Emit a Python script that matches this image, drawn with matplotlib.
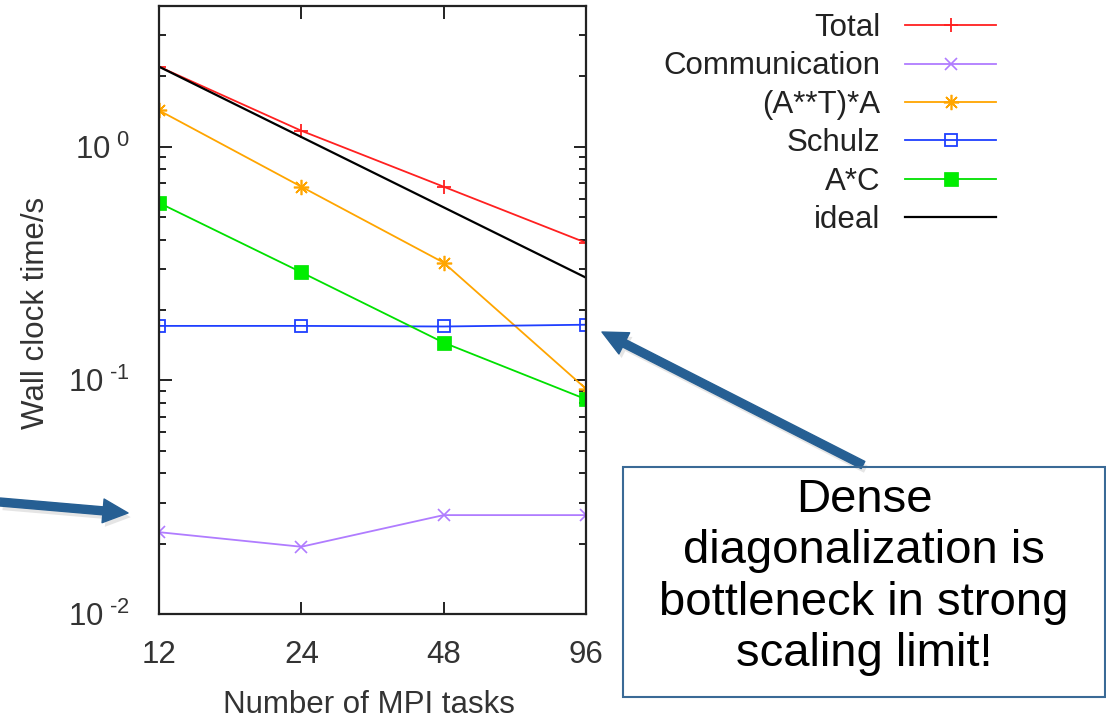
import matplotlib
matplotlib.use("Agg")
import matplotlib.pyplot as plt
from matplotlib.ticker import FixedLocator, NullLocator, FixedFormatter
from matplotlib.patches import Rectangle
import matplotlib.patheffects as pe

plt.rcParams['font.family'] = ['Liberation Sans', 'DejaVu Sans']
plt.rcParams['mathtext.fontset'] = 'custom'
plt.rcParams['mathtext.rm'] = 'Liberation Sans'
plt.rcParams['mathtext.it'] = 'Liberation Sans'

# ---- data ----
tasks = [12, 24, 48, 96]
total = [2.2, 1.17, 0.674, 0.388]
communication = [0.0224, 0.0194, 0.0265, 0.0265]
ata = [1.43, 0.674, 0.319, 0.092]
schulz = [0.171, 0.171, 0.170, 0.173]
ac = [0.575, 0.29, 0.145, 0.083]
ideal = [2.2, 1.1, 0.55, 0.275]

series_labels = ["Total", "Communication", "(A**T)*A", "Schulz", "A*C", "ideal"]
xtick_labels = ["12", "24", "48", "96"]
ytick_values = [0.01, 0.1, 1.0]
ytick_labels = [r"$\mathregular{10^{\ \text{-}2}}$", r"$\mathregular{10^{\ \text{-}1}}$", r"$\mathregular{10^{\ 0}}$"]
xlabel = "Number of MPI tasks"
ylabel = "Wall clock time/s"
box_text = "Dense\ndiagonalization is\nbottleneck in strong\nscaling limit!"

W, H = 1106, 723
fig = plt.figure(figsize=(W / 100, H / 100), dpi=100)
fig.patch.set_facecolor("white")

L, R, T, B = 159, 586, 6, 614
ax = fig.add_axes([L / W, 1 - B / H, (R - L) / W, (B - T) / H])

FS = 22.5
lw = 1.3
ax.plot(tasks, total, color="#ff2020", lw=lw, marker="+", ms=10, mew=1.3, label=series_labels[0])
ax.plot(tasks, communication, color="#b07cff", lw=lw, marker="x", ms=8, mew=1.2, label=series_labels[1])
ax.plot(tasks, ata, color="#ffa500", lw=lw, marker=(8, 2, 0), ms=11, mew=1.2, label=series_labels[2])
ax.plot(tasks, schulz, color="#1f3fff", lw=lw, marker="s", ms=9, mew=1.3, mfc="none", label=series_labels[3])
ax.plot(tasks, ac, color="#00e000", lw=lw, marker="s", ms=9.5, mew=0.5, mfc="#00ee00", label=series_labels[4])
ax.plot(tasks, ideal, color="black", lw=1.6, label=series_labels[5])

ax.set_xscale("log", base=2)
ax.set_yscale("log")
ax.set_xlim(12, 96)
ax.set_ylim(0.01, 4.0)
ax.xaxis.set_major_locator(FixedLocator(tasks))
ax.xaxis.set_major_formatter(FixedFormatter(xtick_labels))
ax.xaxis.set_minor_locator(NullLocator())
ax.yaxis.set_major_locator(FixedLocator(ytick_values))
ax.yaxis.set_major_formatter(FixedFormatter(ytick_labels))

for sp in ax.spines.values():
    sp.set_linewidth(1.6)
    sp.set_color("#222222")

ax.tick_params(which="both", direction="in", top=True, right=True, width=1.4, colors="#222222")
ax.tick_params(which="major", length=9)
ax.tick_params(which="minor", length=5)
ax.tick_params(axis="x", which="major", pad=19, labelsize=FS, labelcolor="#333333")
ax.tick_params(axis="y", which="major", pad=21, labelsize=FS, labelcolor="#333333")

fig.text(369 / W, 1 - 705 / H, xlabel, fontsize=FS, color="#333333", ha="center", va="center")
fig.text(36 / W, 1 - 313 / H, ylabel, fontsize=FS, color="#333333", ha="center", va="center", rotation=90)

leg = fig.legend(loc="upper right", bbox_to_anchor=(996 / W, 1 - 13 / H),
                 frameon=False, markerfirst=False, fontsize=FS,
                 handlelength=2.9, handletextpad=0.8, labelspacing=0.27,
                 borderpad=0, borderaxespad=0)
for t in leg.get_texts():
    t.set_color("#222222")

# annotation box and arrows
arrow_col = "#265f93"
box = Rectangle((623, H - 697), 1105 - 623, 697 - 467, transform=None,
                fill=False, edgecolor="#3a6a96", lw=1.5)
fig.add_artist(box)
fig.text(864 / W, 1 - 577 / H, box_text, fontsize=34, ha="center", va="center",
         linespacing=1.22, color="black")

shadow = [pe.SimplePatchShadow(offset=(2, -3), shadow_rgbFace="#999999", alpha=0.25), pe.Normal()]
for tail, tip in [((0, 502), (128, 513)), ((863, 465), (602, 332))]:
    ax.annotate("", xy=(tip[0], H - tip[1]), xytext=(tail[0], H - tail[1]),
                xycoords="figure pixels", textcoords="figure pixels",
                annotation_clip=False,
                arrowprops=dict(arrowstyle="simple,head_length=1.0,head_width=0.95,tail_width=0.32",
                                mutation_scale=18, color=arrow_col, shrinkA=0, shrinkB=0,
                                path_effects=shadow))

fig.savefig("out.png", dpi=100)
